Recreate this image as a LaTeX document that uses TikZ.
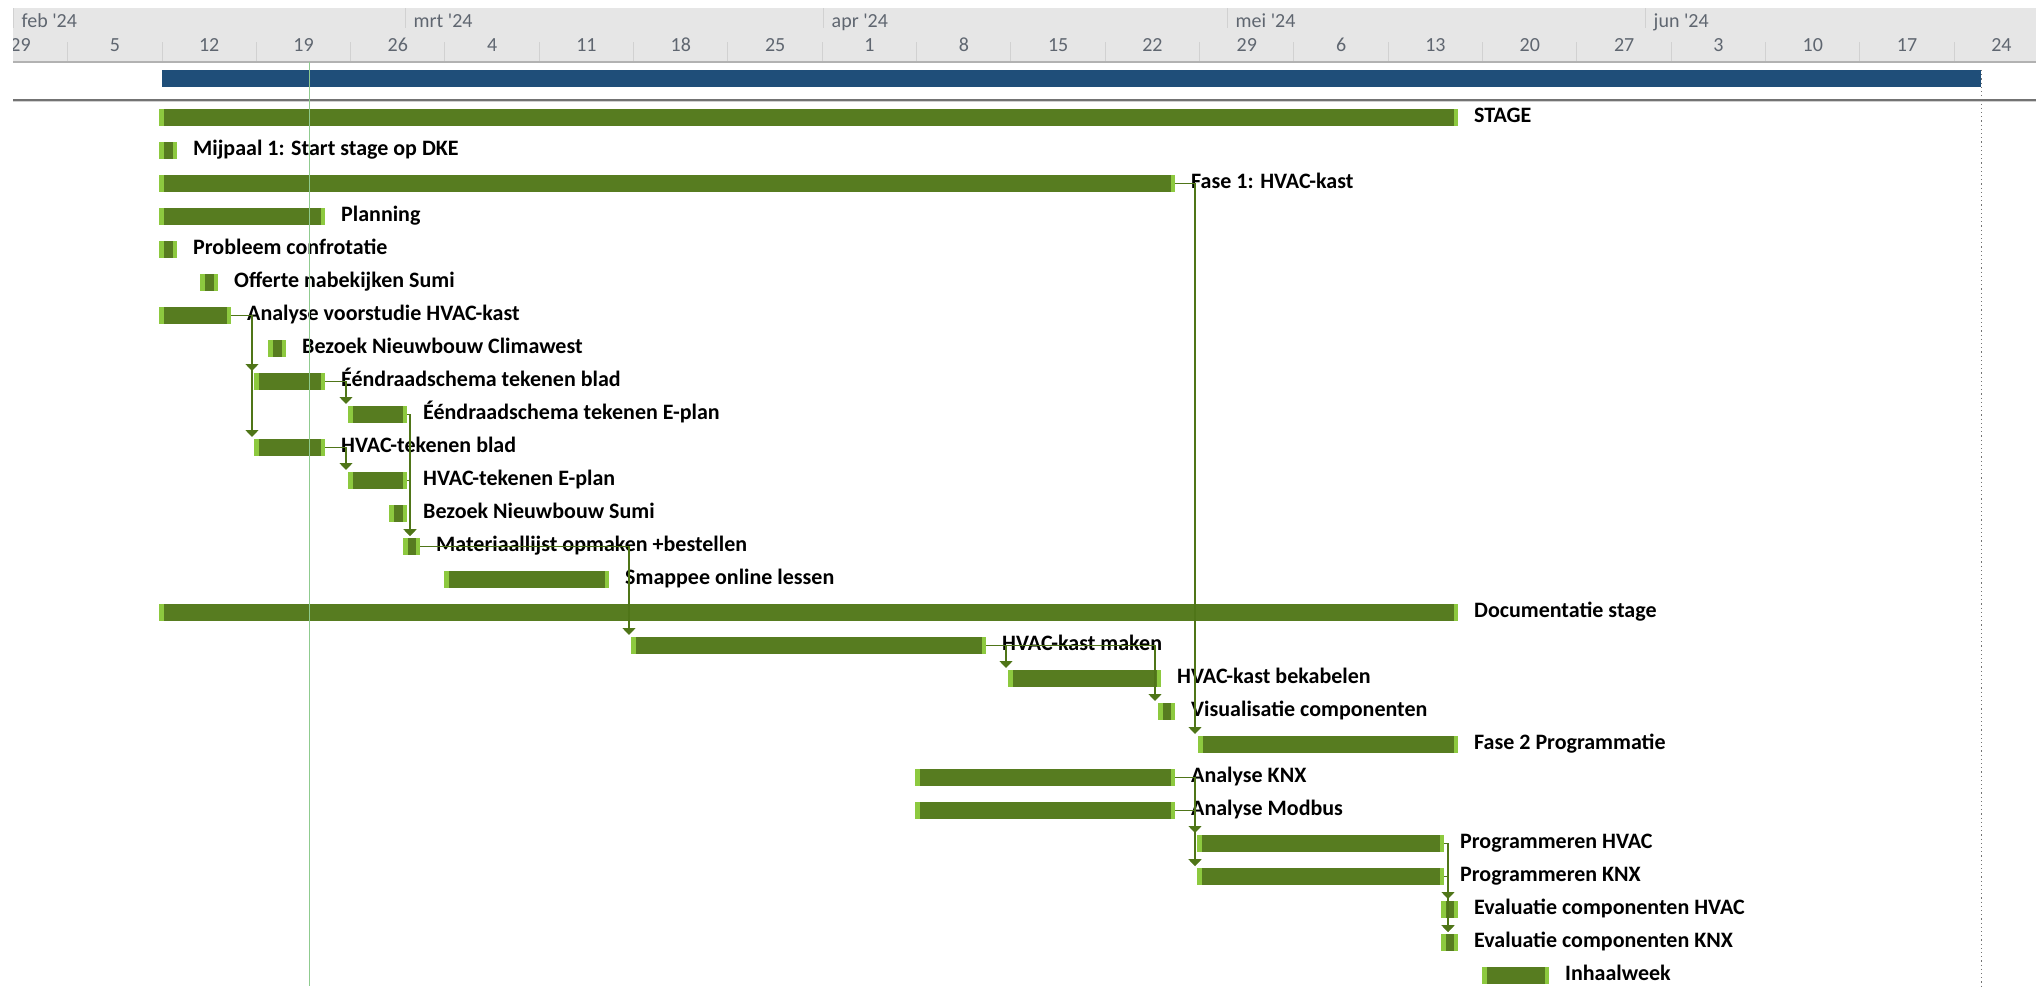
\documentclass[tikz,border=0pt]{standalone}
\usepackage{fontspec}
\setmainfont{Carlito}
\newfontfamily\hdrfont{Carlito}[Ligatures=TeXOff]
\usetikzlibrary{arrows.meta}
\definecolor{bardark}{HTML}{577C20}
\definecolor{barlight}{HTML}{8DC93F}
\definecolor{linkgreen}{HTML}{4F7518}
\definecolor{hdrbg}{HTML}{E6E6E6}
\definecolor{hdrtext}{HTML}{5F6670}
\definecolor{sumblue}{HTML}{1F4E79}
\definecolor{todaygreen}{HTML}{8FCB8F}
\tikzset{
  gbar/.style={fill=bardark, inner sep=0pt, outer sep=0pt, minimum height=17,
    path picture={
      \fill[barlight] (path picture bounding box.south west) rectangle ([xshift=4.5pt]path picture bounding box.north west);
      \fill[barlight] ([xshift=-4pt]path picture bounding box.south east) rectangle (path picture bounding box.north east);
    }},
  lbl/.style={anchor=base west, inner sep=0pt, font=\fontsize{22}{24}\selectfont\bfseries, text=black},
  link/.style={draw=linkgreen, line width=1.4pt, -{Triangle[width=13pt,length=7pt]}},
  wk/.style={anchor=base, inner sep=0pt, font=\hdrfont\fontsize{20}{22}\selectfont, text=hdrtext},
  mon/.style={anchor=base west, inner sep=0pt, font=\hdrfont\fontsize{20}{22}\selectfont, text=hdrtext},
  hdrtick/.style={draw=black!18, line width=1pt},
}
\newcommand\gtask[5]{%
  \node[gbar, minimum width={#3-#2}] (#1) at ({(#2+#3)/2},{117.5+33*#4}) {};
  \node[lbl] (#1-l) at ([xshift=16pt,yshift=-4.5pt]#1.east) {#5};
}
\begin{document}
\begin{tikzpicture}[x=1pt,y=-1pt]
\useasboundingbox (0,0) rectangle (2036,986);
% ---- timescale header
\fill[hdrbg] (13,8) rectangle (2036,62);
\begin{scope}
  \clip (13,8) rectangle (2036,62);
  \foreach \k in {-1,...,19} \draw[hdrtick] ({162+94.33*\k},42) -- ({162+94.33*\k},62);
  \foreach \lab [count=\i from -2] in {29,5,12,19,26,4,11,18,25,1,8,15,22,29,6,13,20,27,3,10,17,24}
    \node[wk] (wk\i) at ({162+94.33*(\i+0.5)},51.5) {\lab};
  \foreach \x/\lab in {13/feb,405/mrt,823/apr,1227/mei,1645/jun}{
    \draw[hdrtick] (\x,8) -- (\x,28);
    \node[mon] (m\lab) at (\x+8.5,27.5) {\lab\ '24};
  }
\end{scope}
\draw[black!30, line width=1.2pt] (13,62) -- (2036,62);
% ---- project summary bar and separator
\node[fill=sumblue, inner sep=0pt, outer sep=0pt, minimum width=1819, minimum height=17, anchor=north west] (summary) at (162,70) {};
\draw[black!55, line width=1.3pt] (13,100) -- (2036,100);
\draw[black!18, line width=1pt] (13,101.8) -- (2036,101.8);
\draw[black!55, line width=1pt, dash pattern=on 1.2pt off 3pt] (summary.north east) -- (1981,986);
% ---- tasks
\gtask{stage}{159}{1458}{0}{STAGE}
\gtask{mijl}{159}{177}{1}{Mijpaal 1: Start stage op DKE}
\gtask{fase1}{159}{1175}{2}{Fase 1: HVAC-kast}
\gtask{plan}{159}{325}{3}{Planning}
\gtask{prob}{159}{177}{4}{Probleem confrotatie}
\gtask{off}{200}{218}{5}{Offerte nabekijken Sumi}
\gtask{anal}{159}{231}{6}{Analyse voorstudie HVAC-kast}
\gtask{clim}{268}{286}{7}{Bezoek Nieuwbouw Climawest}
\gtask{eenb}{254}{325}{8}{Ééndraadschema tekenen blad}
\gtask{eenE}{348}{407}{9}{Ééndraadschema tekenen E-plan}
\gtask{hvb}{254}{325}{10}{HVAC-tekenen blad}
\gtask{hvE}{348}{407}{11}{HVAC-tekenen E-plan}
\gtask{sumi}{389}{407}{12}{Bezoek Nieuwbouw Sumi}
\gtask{mat}{403}{420}{13}{Materiaallijst opmaken +bestellen}
\gtask{smap}{444}{609}{14}{Smappee online lessen}
\gtask{doc}{159}{1458}{15}{Documentatie stage}
\gtask{kast}{631}{986}{16}{HVAC-kast maken}
\gtask{kabel}{1008}{1161}{17}{HVAC-kast bekabelen}
\gtask{vis}{1158}{1175}{18}{Visualisatie componenten}
\gtask{fase2}{1198}{1458}{19}{Fase 2 Programmatie}
\gtask{knx}{915}{1175}{20}{Analyse KNX}
\gtask{mod}{915}{1175}{21}{Analyse Modbus}
\gtask{phv}{1197}{1444}{22}{Programmeren HVAC}
\gtask{pknx}{1197}{1444}{23}{Programmeren KNX}
\gtask{ehv}{1441}{1458}{24}{Evaluatie componenten HVAC}
\gtask{eknx}{1441}{1458}{25}{Evaluatie componenten KNX}
\gtask{inh}{1482}{1549}{26}{Inhaalweek}
% ---- links
\draw[link] (anal.east) -| ([xshift=-2pt,yshift=2pt]eenb.north west);
\draw[link] (anal.east) -| ([xshift=-2pt,yshift=2pt]hvb.north west);
\draw[link] (eenb.east) -| ([xshift=-2pt,yshift=2pt]eenE.north west);
\draw[link] (hvb.east) -| ([xshift=-2pt,yshift=2pt]hvE.north west);
\draw[link] (eenE.east) -| ([xshift=7pt,yshift=2pt]mat.north west);
\draw[link] (hvE.east) -| ([xshift=7pt,yshift=2pt]mat.north west);
\draw[link] (mat.east) -| ([xshift=-2pt,yshift=2pt]kast.north west);
\draw[link] (kast.east) -| ([xshift=-2pt,yshift=2pt]kabel.north west);
\draw[link] (kast.east) -| ([xshift=-3pt,yshift=2pt]vis.north west);
\draw[link] (fase1.east) -| ([xshift=-3pt,yshift=2pt]fase2.north west);
\draw[link] (knx.east) -| ([xshift=-2pt,yshift=2pt]phv.north west);
\draw[link] (knx.east) -| ([xshift=-2pt,yshift=2pt]pknx.north west);
\draw[link] (mod.east) -| ([xshift=-2pt,yshift=2pt]pknx.north west);
\draw[link] (phv.east) -| ([xshift=7pt,yshift=2pt]ehv.north west);
\draw[link] (phv.east) -| ([xshift=7pt,yshift=2pt]eknx.north west);
\draw[link] (pknx.east) -| ([xshift=7pt,yshift=2pt]eknx.north west);
% ---- status date line
\draw[todaygreen, line width=1.3pt] (309.5,62) -- (309.5,986);
\end{tikzpicture}
\end{document}
